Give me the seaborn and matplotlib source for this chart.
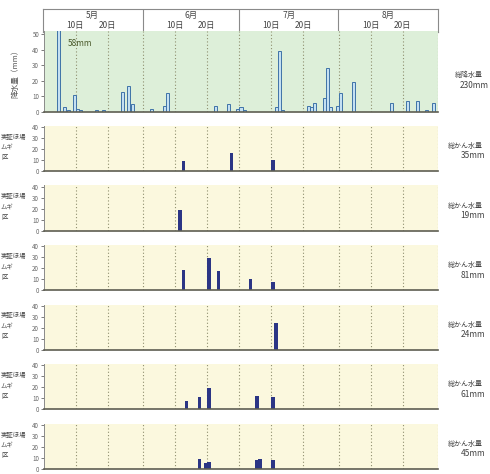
import numpy as np
import pandas as pd
import matplotlib
matplotlib.use("Agg")
import matplotlib.pyplot as plt
import seaborn as sns

# ---- data (day index: 0 = May 1, 123 days to Aug 31) ----
n_days = 123
month_labels = ["5月", "6月", "7月", "8月"]
month_start = [0, 31, 61, 92, 123]
day_labels = ["10日", "20日"]

rain_day = [4, 6, 7, 9, 10, 11, 16, 18, 24, 26, 27, 33, 37, 38, 53, 57, 60, 61, 62,
            72, 73, 74, 82, 83, 84, 87, 88, 89, 91, 92, 96, 108, 113, 116, 119, 121]
rain_mm = [58, 3, 1, 11, 2, 1, 1, 1, 13, 17, 5, 2, 4, 12, 4, 5, 2, 3, 1,
           3, 39, 1, 4, 3, 6, 9, 28, 3, 4, 12, 19, 6, 7, 7, 1, 6]
rain_total = "230mm"

irr_days = [
    [43, 58, 71],
    [42],
    [43, 51, 54, 64, 71],
    [72],
    [44, 48, 51, 66, 71],
    [48, 50, 51, 66, 67, 71],
]
irr_mm = [
    [9, 16, 10],
    [19],
    [18, 29, 17, 10, 7],
    [24],
    [8, 11, 19, 12, 11],
    [9, 5, 6, 8, 9, 8],
]
irr_total = ["35mm", "19mm", "81mm", "24mm", "61mm", "45mm"]
plot_label = "実証ほ場\nムギ\n区"

# ---- style ----
sns.set_style("white")
plt.rcParams["font.family"] = ["Noto Sans CJK JP", "DejaVu Sans"]

W, H = 490, 474
fig = plt.figure(figsize=(W / 100, H / 100), dpi=100)


def frac(left, top, w, h):
    return [left / W, 1 - (top + h) / H, w / W, h / H]


def daily(days, vals):
    v = np.zeros(n_days)
    v[days] = vals
    return pd.DataFrame({"x": np.arange(n_days) + 0.5, "y": v})


guide_x = [10, 20, 31, 41, 51, 61, 71, 81, 92, 102, 112, 123]
txt_gray = "#666666"


def style_panel(ax, bg, ymax, yticks):
    ax.set_facecolor(bg)
    ax.set_xlim(0, n_days)
    ax.set_ylim(0, ymax)
    ax.set_xlabel("")
    ax.set_ylabel("")
    ax.set_xticks([])
    ax.set_yticks(yticks)
    ax.tick_params(axis="y", labelsize=4.5, colors=txt_gray, length=2,
                   width=0.6, pad=1.5, left=True)
    for s in ["top", "right"]:
        ax.spines[s].set_visible(False)
    ax.spines["left"].set_color("#8a8a8a")
    ax.spines["left"].set_linewidth(0.7)
    ax.spines["bottom"].set_color("#5e5e52")
    ax.spines["bottom"].set_linewidth(1.2)
    for gx in guide_x:
        ax.axvline(gx, color="#8e8e6e", lw=0.8, ls=(0, (1, 2)), zorder=0.5)


# ---- header with months ----
hx = fig.add_axes(frac(43, 9, 395, 23))
hx.set_xlim(0, n_days)
hx.set_ylim(0, 1)
hx.set_xticks([])
hx.set_yticks([])
for s in hx.spines.values():
    s.set_color("#8a8a8a")
    s.set_linewidth(0.8)
for i, m in enumerate(month_labels):
    a, b = month_start[i], month_start[i + 1]
    hx.text((a + b) / 2, 0.72, m, ha="center", va="center", fontsize=6, color="#444444")
    hx.text(a + 10, 0.27, day_labels[0], ha="center", va="center", fontsize=6, color="#444444")
    hx.text(a + 20, 0.27, day_labels[1], ha="center", va="center", fontsize=6, color="#444444")
    if i > 0:
        hx.axvline(a, color="#8a8a8a", lw=0.8)

# ---- rainfall panel ----
ax0 = fig.add_axes(frac(44, 31, 394, 81))
sns.barplot(data=daily(rain_day, rain_mm), x="x", y="y", native_scale=True,
            width=0.95, color="#c4e0f2", edgecolor="#3f73a8", linewidth=0.7,
            saturation=1, errorbar=None, ax=ax0)
style_panel(ax0, "#ddefd9", 52, [0, 10, 20, 30, 40, 50])
ax0.text(7.5, 44, "58mm", fontsize=6, color="#4b5a2c", va="center")
fig.text(15 / W, 1 - 72 / H, "降水量（mm）", rotation=90, ha="center", va="center",
         fontsize=5.5, color="#555555")
fig.text(455 / W, 1 - 75 / H, "総降水量", fontsize=5, color="#444444", va="center")
fig.text(489 / W, 1 - 86 / H, rain_total, fontsize=6, color="#444444",
         va="center", ha="right")

# ---- irrigation panels ----
for i in range(6):
    top = 127 + 59.6 * i
    ax = fig.add_axes(frac(44, top - 1.2, 394, 45.2))
    sns.barplot(data=daily(irr_days[i], irr_mm[i]), x="x", y="y", native_scale=True,
                width=1.1, color="#2b3585", linewidth=0, saturation=1,
                errorbar=None, ax=ax)
    style_panel(ax, "#fbf8de", 41, [0, 10, 20, 30, 40])
    mid = top + 22
    fig.text(1 / W, 1 - (mid - 2) / H, plot_label, fontsize=4.6, color="#444444",
             va="center", ha="left", linespacing=1.4)
    fig.text(448 / W, 1 - (mid - 3) / H, "総かん水量", fontsize=5, color="#444444",
             va="center")
    fig.text(485 / W, 1 - (mid + 7) / H, irr_total[i], fontsize=6, color="#444444",
             va="center", ha="right")

fig.savefig("out.png", dpi=100)
